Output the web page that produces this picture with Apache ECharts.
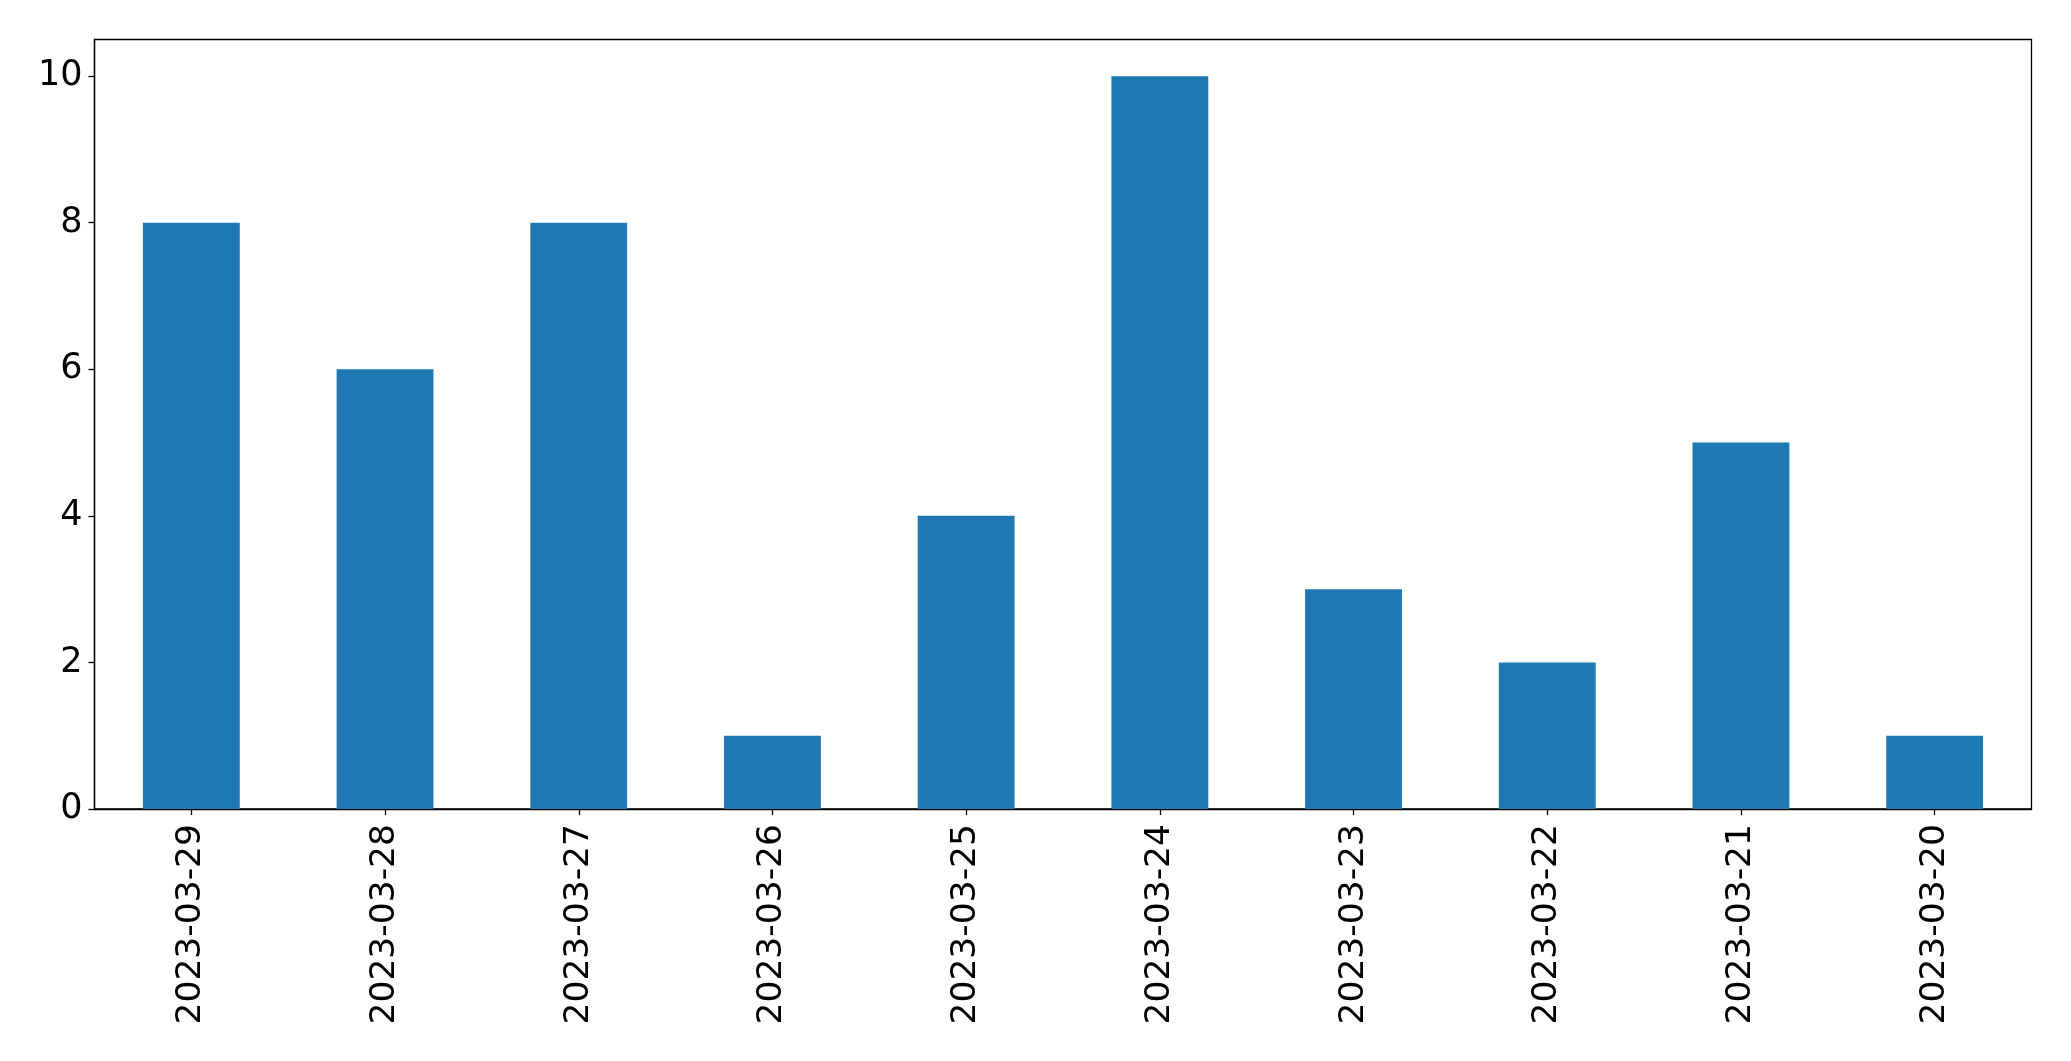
<!DOCTYPE html>
<html>
<head>
<meta charset="utf-8">
<script src="https://cdn.jsdelivr.net/npm/echarts@6/dist/echarts.min.js"></script>
<style>html,body{margin:0;padding:0;background:#fff;}#c{width:2071px;height:1061px;}</style>
</head>
<body>
<div id="c"></div>
<script>
const categories = ["2023-03-29","2023-03-28","2023-03-27","2023-03-26","2023-03-25","2023-03-24","2023-03-23","2023-03-22","2023-03-21","2023-03-20"];
const values = [8, 6, 8, 1, 4, 10, 3, 2, 5, 1];
const yTicks = [0, 2, 4, 6, 8, 10];

const chart = echarts.init(document.getElementById('c'), null, {renderer: 'canvas'});
const font = 'DejaVu Sans';
chart.setOption({
  animation: false,
  grid: {left: 94.5, right: 39.5, top: 39.5, bottom: 252, show: true, borderColor: '#000', borderWidth: 1.3, backgroundColor: 'transparent'},
  xAxis: {
    type: 'category',
    data: categories,
    axisLine: {show: true, lineStyle: {color: '#000', width: 1.3}},
    axisTick: {show: true, alignWithLabel: true, length: 6, lineStyle: {color: '#000', width: 1.3}},
    axisLabel: {rotate: 90, fontFamily: font, fontSize: 34.5, color: '#000', margin: 15, interval: 0},
    splitLine: {show: false}
  },
  yAxis: {
    type: 'value',
    min: 0, max: 10.5, interval: 2,
    axisLine: {show: true, lineStyle: {color: '#000', width: 1.3}},
    axisTick: {show: true, length: 6, customValues: yTicks, lineStyle: {color: '#000', width: 1.3}},
    axisLabel: {fontFamily: font, fontSize: 35, color: '#000', margin: 12, padding: [4, 0, 0, 0], customValues: yTicks},
    splitLine: {show: false}
  },
  series: [{
    type: 'bar',
    data: values,
    barWidth: '50%',
    itemStyle: {color: '#1f77b4'}
  }]
});
</script>
</body>
</html>
